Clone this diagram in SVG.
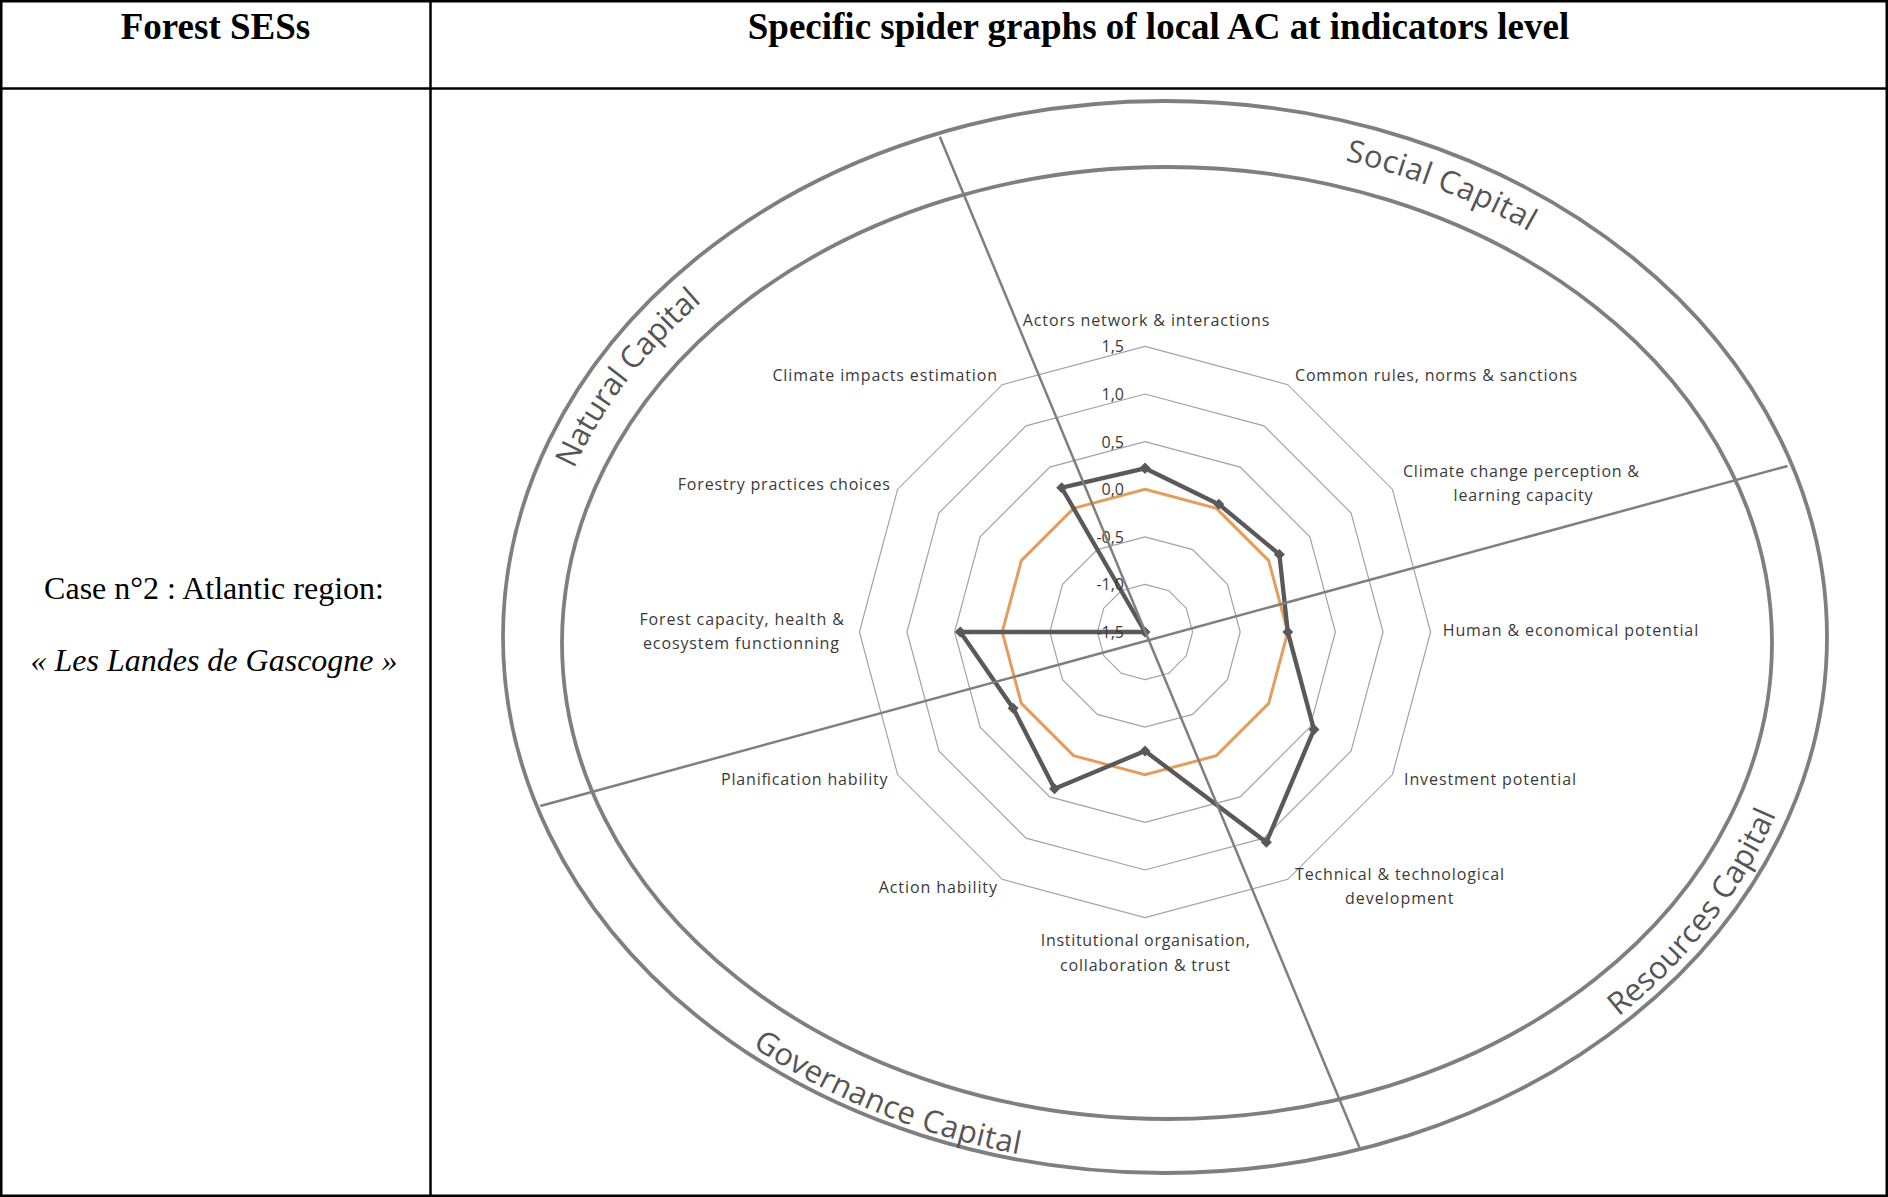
<svg xmlns="http://www.w3.org/2000/svg" width="1888" height="1197" viewBox="0 0 1888 1197">
<style>
.tbl{fill:none;stroke:#000;stroke-width:2.5}
.tb{font-family:"Liberation Serif","Times New Roman",serif;fill:#000}
.hd{font-size:37px;font-weight:bold;text-anchor:middle}
.body{font-size:32px;text-anchor:middle}
.lbl{font-family:"Open Sans","Liberation Sans",sans-serif;font-size:16px;fill:#3a3a3a}
.ax{font-family:"Open Sans","Liberation Sans",sans-serif;font-size:16px;fill:#3a3a3a;text-anchor:end}
.cap{font-family:"Open Sans","Liberation Sans",sans-serif;font-size:31px;fill:#555}
.ring{fill:none;stroke:#a3a3a3;stroke-width:1.2}
.ser{fill:none;stroke:#595959;stroke-width:4.3;stroke-linejoin:miter}
.ref{fill:none;stroke:#e59d5e;stroke-width:3}
.ell{fill:none;stroke:#7f7f7f;stroke-width:3.8}
.div{stroke:#7f7f7f;stroke-width:2.5;fill:none}
</style>
<defs>
<marker id="dia" viewBox="-6 -6 12 12" markerWidth="12" markerHeight="12" markerUnits="userSpaceOnUse" refX="0" refY="0" orient="0">
<path d="M0,-5.5 L5.5,0 L0,5.5 L-5.5,0 Z" fill="#595959"/>
</marker>
<path id="arcSocial" d="M1344.9,160.6 A630,500 0 0 1 1682.1,353.2"/>
<path id="arcNatural" d="M574,469 A630,500 0 0 1 899.8,186.8"/>
<path id="arcGov" d="M752,1046.4 A648,530 0 0 0 1277.5,1159.9"/>
<path id="arcRes" d="M1618.4,1016.7 A648,530 0 0 0 1810.5,591.8"/>
</defs>
<rect width="1888" height="1197" fill="#fff"/>

<g id="table">
<rect class="tbl" x="1.25" y="1.25" width="1885.5" height="1194.5"/>
<line class="tbl" x1="0" y1="88.5" x2="1888" y2="88.5"/>
<line class="tbl" x1="430.5" y1="0" x2="430.5" y2="1197"/>
</g>

<g id="header-forest-sess">
<text class="tb hd" x="215.5" y="39">Forest SESs</text>
</g>
<g id="header-spider-graphs">
<text class="tb hd" x="1158.5" y="39">Specific spider graphs of local AC at indicators level</text>
</g>
<g id="case-label">
<text class="tb body" x="214" y="599">Case n°2 : Atlantic region:</text>
<text class="tb body" x="214" y="671" font-style="italic">« Les Landes de Gascogne »</text>
</g>

<g id="chart-grid">
<polygon class="ring" points="1145,584.4 1168.8,590.78 1186.22,608.2 1192.6,632 1186.22,655.8 1168.8,673.22 1145,679.6 1121.2,673.22 1103.78,655.8 1097.4,632 1103.78,608.2 1121.2,590.78"/>
<polygon class="ring" points="1145,536.8 1192.6,549.56 1227.44,584.4 1240.2,632 1227.44,679.6 1192.6,714.44 1145,727.2 1097.4,714.44 1062.56,679.6 1049.8,632 1062.56,584.4 1097.4,549.56"/>
<polygon class="ring" points="1145,489.2 1216.4,508.33 1268.67,560.6 1287.8,632 1268.67,703.4 1216.4,755.67 1145,774.8 1073.6,755.67 1021.33,703.4 1002.2,632 1021.33,560.6 1073.6,508.33"/>
<polygon class="ring" points="1145,441.6 1240.2,467.11 1309.89,536.8 1335.4,632 1309.89,727.2 1240.2,796.89 1145,822.4 1049.8,796.89 980.11,727.2 954.6,632 980.11,536.8 1049.8,467.11"/>
<polygon class="ring" points="1145,394 1264,425.89 1351.11,513 1383,632 1351.11,751 1264,838.11 1145,870 1026,838.11 938.89,751 907,632 938.89,513 1026,425.89"/>
<polygon class="ring" points="1145,346.4 1287.8,384.67 1392.33,489.2 1430.6,632 1392.33,774.8 1287.8,879.33 1145,917.6 1002.2,879.33 897.67,774.8 859.4,632 897.67,489.2 1002.2,384.67"/>
</g>

<g id="series-reference">
<polygon class="ref" points="1145,489.2 1216.4,508.33 1268.67,560.6 1287.8,632 1268.67,703.4 1216.4,755.67 1145,774.8 1073.6,755.67 1021.33,703.4 1002.2,632 1021.33,560.6 1073.6,508.33"/>
</g>

<g id="series-local">
<polygon class="ser" marker-start="url(#dia)" marker-mid="url(#dia)" marker-end="url(#dia)" points="1145,468.3 1218.8,504.2 1279.4,554.4 1287.8,632 1314,729.6 1266.4,842.3 1145,751 1054.55,788.7 1013.1,708.15 960.3,632 1145,632 1061.7,487.7"/>
</g>

<g id="axis-labels">
<text class="ax" x="1124" y="352.4">1,5</text>
<text class="ax" x="1124" y="400">1,0</text>
<text class="ax" x="1124" y="447.6">0,5</text>
<text class="ax" x="1124" y="495.2">0,0</text>
<text class="ax" x="1124" y="542.8">-0,5</text>
<text class="ax" x="1124" y="590.4">-1,0</text>
<text class="ax" x="1124" y="638">-1,5</text>
</g>

<g id="ind-actors"><text class="lbl" x="1022.7" y="325.5" textLength="246.6">Actors network &amp; interactions</text></g>
<g id="ind-common-rules"><text class="lbl" x="1295" y="380.5" textLength="282">Common rules, norms &amp; sanctions</text></g>
<g id="ind-climate-change"><text class="lbl" x="1403" y="477" textLength="236">Climate change perception &amp;</text><text class="lbl" x="1453.5" y="501" textLength="139">learning capacity</text></g>
<g id="ind-human"><text class="lbl" x="1442.7" y="636" textLength="255.5">Human &amp; economical potential</text></g>
<g id="ind-investment"><text class="lbl" x="1404" y="785" textLength="172">Investment potential</text></g>
<g id="ind-technical"><text class="lbl" x="1295" y="879.5" textLength="209">Technical &amp; technological</text><text class="lbl" x="1345" y="903.5" textLength="108.5">development</text></g>
<g id="ind-institutional"><text class="lbl" x="1040.7" y="945.5" textLength="209.3">Institutional organisation,</text><text class="lbl" x="1060" y="970.5" textLength="170">collaboration &amp; trust</text></g>
<g id="ind-action"><text class="lbl" x="878.7" y="892.5" textLength="118.3">Action hability</text></g>
<g id="ind-planification"><text class="lbl" x="721" y="785" textLength="166.6">Planification hability</text></g>
<g id="ind-forest-capacity"><text class="lbl" x="639.4" y="624.5" textLength="204.4">Forest capacity, health &amp;</text><text class="lbl" x="643" y="648.5" textLength="196">ecosystem functionning</text></g>
<g id="ind-forestry-practices"><text class="lbl" x="677.8" y="490" textLength="212">Forestry practices choices</text></g>
<g id="ind-climate-impacts"><text class="lbl" x="772.4" y="380.5" textLength="224.6">Climate impacts estimation</text></g>

<g id="capital-rings">
<ellipse class="ell" cx="1165" cy="637" rx="662" ry="536"/>
<ellipse class="ell" cx="1167" cy="643" rx="605" ry="476"/>
</g>

<g id="connectors">
<line class="div" x1="939.8" y1="136.7" x2="1359.4" y2="1147.5"/>
<line class="div" x1="540.3" y1="806" x2="1787.6" y2="466"/>
</g>

<g id="cap-social"><text class="cap"><textPath href="#arcSocial" textLength="198">Social Capital</textPath></text></g>
<g id="cap-natural"><text class="cap"><textPath href="#arcNatural" textLength="212">Natural Capital</textPath></text></g>
<g id="cap-governance"><text class="cap"><textPath href="#arcGov" textLength="290">Governance Capital</textPath></text></g>
<g id="cap-resources"><text class="cap"><textPath href="#arcRes" textLength="259">Resources Capital</textPath></text></g>
</svg>
